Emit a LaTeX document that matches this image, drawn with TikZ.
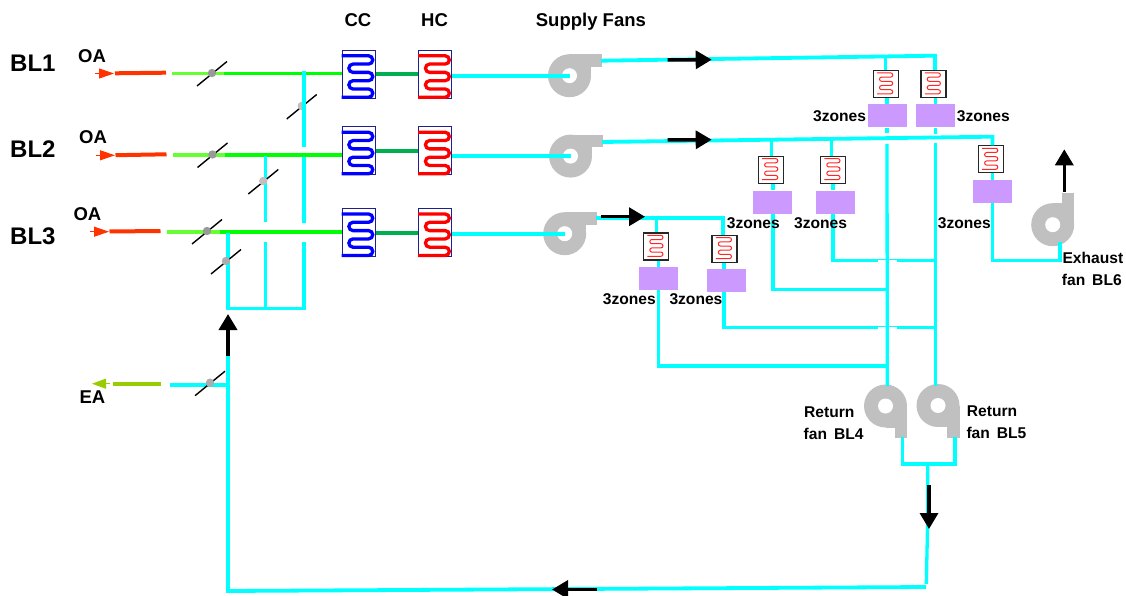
\documentclass[tikz,border=0pt]{standalone}
\usepackage{fontspec}
\setmainfont{Liberation Sans}
\usetikzlibrary{arrows.meta}
\definecolor{duct}{HTML}{00FFFF}
\definecolor{fangray}{HTML}{C0C0C0}
\definecolor{zonepurple}{HTML}{CC99FF}
\definecolor{oared}{HTML}{FF3300}
\definecolor{lgreen}{HTML}{66FF33}
\definecolor{mgreen}{HTML}{00FF00}
\definecolor{dgreen}{HTML}{00B050}
\definecolor{eagreen}{HTML}{99CC00}
\definecolor{coilframe}{HTML}{1F1F8F}
\definecolor{coilblue}{HTML}{0000FF}
\definecolor{coilred}{HTML}{FF0000}
\tikzset{
  ductline/.style={draw=duct,line width=3.3pt},
  ductthick/.style={draw=duct,line width=4.2pt},
  bridge/.style={draw=white,line width=1.6pt},
  flow/.style={draw=black,line width=3.5pt,-{Triangle[length=16pt,width=18pt]}},
  oaline/.style={draw=oared,line width=4pt},
  oatip/.style={draw=oared,line width=1pt,-{Triangle[length=15pt,width=10pt]}},
  eatip/.style={draw=eagreen,line width=1pt,-{Triangle[length=14pt,width=10pt]}},
  bigbox/.style={draw=coilframe,line width=1pt,minimum width=33pt,minimum height=48pt,inner sep=0pt},
  zonebox/.style={fill=zonepurple,minimum width=39pt,minimum height=23pt,inner sep=0pt},
  smallbox/.style={draw=black!85,fill=white,line width=1.2pt,minimum width=25pt,minimum height=27pt,inner sep=0pt},
  txt/.style={inner sep=0pt,anchor=base west,font=\fontsize{15.6}{15.6}\selectfont\bfseries},
  head/.style={inner sep=0pt,anchor=base west,font=\fontsize{18.5}{18.5}\selectfont\bfseries},
  blk/.style={inner sep=0pt,anchor=base west,font=\fontsize{24}{24}\selectfont\bfseries},
  pics/fan/.style={code={
    \fill[fangray] (0,0) circle[radius=21.5];
    \fill[fangray] (0,-21.5) rectangle (21.5,0);
    \fill[fangray] (0,-21.5) rectangle (32,-9);
    \fill[white] (0,0) circle[radius=7.5];}},
  pics/serp/.style={code={
    \draw[#1,line width=3.3pt] (0,6) -- (27,6) arc[start angle=-90,end angle=90,radius=4.15]
      -- (11.4,14.3) arc[start angle=-90,end angle=-270,radius=4.15]
      -- (27,22.6) arc[start angle=-90,end angle=90,radius=4.15]
      -- (11.4,30.9) arc[start angle=-90,end angle=-270,radius=4.15]
      -- (27,39.2) arc[start angle=-90,end angle=90,radius=4.15]
      -- (0,47.5);}},
  pics/minis/.style={code={
    \draw[red!85!white,line width=1pt] (4.5,3) -- (18,3) arc[start angle=-90,end angle=90,radius=2.1]
      -- (9,7.2) arc[start angle=-90,end angle=-270,radius=2.1]
      -- (18,11.4) arc[start angle=-90,end angle=90,radius=2.1]
      -- (9,15.6) arc[start angle=-90,end angle=-270,radius=2.1]
      -- (18,19.8) arc[start angle=-90,end angle=90,radius=2.1]
      -- (4.5,24);}},
  pics/damper/.style={code={
    \draw[black,line width=1.4pt] (-15,13) -- (15,-11.5);
    \fill[#1] (0,0) circle[radius=4.2];}}
}
\begin{document}
\begin{tikzpicture}[x=1pt,y=-1pt]
\useasboundingbox (0,0) rectangle (1126,596);

% ---------- named points
\foreach \n/\x/\y in {
  oaT1/95/73.5, oaH1/114/73.5, oaA1/115/73.3, oaB1/166/72.7, lgA1/172/73.5, lgB1/224/73.5,
  oaT2/96/155.3, oaH2/115/155.3, oaA2/115.5/155.2, oaB2/166.5/154.3, lgA2/173/155, lgB2/225/155,
  oaT3/90/231.7, oaH3/109/231.7, oaA3/109.5/231.5, oaB3/160.5/231, lgA3/167/231.7, lgB3/220/231.7,
  eaT/110/383.7, eaH/92/383.7, eaA/161/383.7, eaB/112.7/383.7, exA/170/385, exB/229.5/385,
  fan1/569.5/75.7, fan2/570.5/156.1, fan3/564.7/233.7, fan4/885.5/406, fan5/938/405.5, fan6/1052.7/224.7,
  o1/601/60.7, o1e/935/55.7, o2/602/142, o2e/992.5/136.7, o3/596/217.7, o3e/723/217.7,
  ar1a/667.7/60, ar1b/711.7/59.7, ar2a/667.7/140, ar2b/711.7/139.7, ar3a/601/216.7, ar3b/645/216.7,
  j1/885.5/56.5, j2/771.7/138.8, j3/831.3/138.5, j4/656.7/218, 
  cA/887/133.5, cB/887/144, cAe/887.3/386, dA/935.3/134, dB/935.3/143, dBe/935.3/386,
  h1s/830.7/260.7, h1e/935.3/260.7, h1c/833/260.7, h2c/773/289.3, h2e/887.3/289.3,
  h3c/724/327.7, h3e/935.3/327.7, h4c/658.3/366, h4e/887.3/366,
  b1a/878/260.7, b1b/897/260.7, b2a/878/327.7, b2b/897/327.7,
  e1/992.7/260.7, e2/1060/260.7, e3/1060/242,
  rA/902.7/437, rAb/902.7/464, rB/955/437, rBb/955/464, rL/901/464, rR/957/464,
  rDa/927.7/463, rDb/927.5/529, rDc/926.3/584,
  bR/926/587, bL/228/591, v1/228/356, v1t/228/314, v1b/228/356,
  w1/228/308.3, w2/265.7/308.3, w3/304/308.3, w4/228/233,
  u1/304/71, u2/304/147, u3/304/157, u4/304/223, u5/304/242,
  u6/265.7/155.7, u7/265.7/222, u8/265.7/242,
  ax1/597/589.5, ax2/552/589.5, dn1/929/485, dn2/929/529, up1/1064.3/192, up2/1064.3/149.3
}{\coordinate (\n) at (\x,\y);}

% ---------- coil boxes, zones, fans
\foreach \n/\x/\y/\c in {cc1/358.6/74.3/coilblue, cc2/358.6/150.8/coilblue, cc3/358.6/232.5/coilblue,
                         hc1/435.2/74.3/coilred, hc2/435.2/150.8/coilred, hc3/435.2/232.5/coilred}{
  \node[bigbox] (\n) at (\x,\y) {};
  \pic at (\n.north west) {serp=\c};
}
\foreach \n/\x/\y in {tc1/885.7/84, tc2/933.4/84, tc3/770.8/169.7, tc4/833/169.7, tc5/990.8/159.4, tc6/656/246.4, tc7/724.5/248.7}{
  \node[smallbox] (\n) at (\x,\y) {};
  \pic at (\n.north west) {minis};
}
\foreach \n/\x/\y in {z1/887.6/116, z2/935.5/116, z3/772.7/202, z4/835/202, z5/992.8/191.5, z6/658/278.5, z7/726.7/280.5}{
  \node[zonebox] (\n) at (\x,\y) {};
}
\pic at (fan1) {fan};
\pic at (fan2) {fan};
\pic at (fan3) {fan};
\pic[rotate=-90] at (fan4) {fan};
\pic[rotate=-90] at (fan5) {fan};
\pic[cm={0,1,1,0,(0,0)}] at (fan6) {fan};

% ---------- damper under the duct
\pic at (301.7,106) {damper=fangray};

% ---------- outside air rows
\draw[oaline] (oaA1) -- (oaB1);
\draw[oaline] (oaA2) -- (oaB2);
\draw[oaline] (oaA3) -- (oaB3);
\draw[oatip] (oaT1) -- (oaH1);
\draw[oatip] (oaT2) -- (oaH2);
\draw[oatip] (oaT3) -- (oaH3);
\foreach \i in {1,2,3}{
  \draw[lgreen,line width=3.6pt] (lgA\i) -- (lgB\i);
  \draw[mgreen,line width=3.6pt] (lgB\i) -- (lgB\i -| cc\i.west);
  \draw[dgreen,line width=4pt] (cc\i.east) -- (hc\i.west);
}
\draw[eagreen,line width=3.6pt] (eaA) -- (eaB);
\draw[eatip] (eaT) -- (eaH);

% ---------- supply ducts
\draw[ductthick] (hc1.east |- fan1) -- (fan1);
\draw[ductthick] (hc2.east |- fan2) -- (fan2);
\draw[ductthick] (hc3.east |- fan3) -- (fan3);
\draw[ductline,line width=3.8pt,line join=miter] (o1) -- (o1e) -- (o1e |- tc2.north);
\draw[ductline,line width=3.8pt] (o2) -- (o2e) -- (o2e |- tc5.north);
\draw[ductline,line width=3.8pt] (o3) -- (o3e) -- (o3e |- tc7.north);
\draw[ductline] (j1) -- (j1 |- tc1.north);
\draw[ductline] (j2) -- (j2 |- tc3.north);
\draw[ductline] (j3) -- (j3 |- tc4.north);
\draw[ductline] (j4) -- (j4 |- tc6.north);
\draw[ductline] (cA |- tc1.south) -- (cA |- z1.north);
\draw[ductline] (dA |- tc2.south) -- (dA |- z2.north);
\draw[ductline] (h2c |- tc3.south) -- (h2c |- z3.north);
\draw[ductline] (h1c |- tc4.south) -- (h1c |- z4.north);
\draw[ductline] (e1 |- tc5.south) -- (e1 |- z5.north);
\draw[ductline] (h4c |- tc6.south) -- (h4c |- z6.north);
\draw[ductline] (h3c |- tc7.south) -- (h3c |- z7.north);

% ---------- return ducts
\draw[ductline] (h1s) -- (h1e);
\draw[ductline] (h1c |- z4.south) -- (h1c);
\draw[ductline] (h2c |- z3.south) -- (h2c) -- (h2e);
\draw[ductline] (h3c |- z7.south) -- (h3c) -- (h3e);
\draw[ductline] (h4c |- z6.south) -- (h4c) -- (h4e);
\draw[bridge] (b1a) -- (b1b);
\draw[bridge] (b2a) -- (b2b);
\draw[ductline] (cA |- z1.south) -- (cA);
\draw[ductline] (cB) -- (cAe);
\draw[ductline] (dA |- z2.south) -- (dA);
\draw[ductline] (dB) -- (dBe);
\draw[ductline] (e1 |- z5.south) -- (e1) -- (e2) -- (e3);
\draw[ductline] (rA) -- (rAb);
\draw[ductline] (rB) -- (rBb);
\draw[ductline] (rL) -- (rR);
\draw[ductline] (rDa) -- (rDb) -- (rDc);
\draw[ductline,line width=3.8pt,line join=miter] (bR) -- (bL) -- (v1);

% ---------- mixing ducts
\draw[ductline] (w4) -- (w1) -- (w3) -- (u5);
\draw[ductline] (w2) -- (u8);
\draw[ductline] (u1) -- (u2);
\draw[ductline] (u3) -- (u4);
\draw[ductline] (u6) -- (u7);
\draw[ductline] (exA) -- (exB);

% ---------- dampers on top
\pic at (212,73) {damper=black!40};
\pic at (212.5,154.5) {damper=black!40};
\pic at (207,231) {damper=black!40};
\pic at (263.3,181) {damper=fangray};
\pic at (226,261) {damper=fangray!90!black};
\pic at (210,382.7) {damper=fangray!90!black};

% ---------- flow arrows
\draw[flow] (ar1a) -- (ar1b);
\draw[flow] (ar2a) -- (ar2b);
\draw[flow] (ar3a) -- (ar3b);
\draw[flow] (v1b) -- (v1t);
\draw[flow] (dn1) -- (dn2);
\draw[flow] (ax1) -- (ax2);
\draw[flow] (up1) -- (up2);

% ---------- labels
\node[blk] (tb1) at (10,71.5) {BL1};
\node[blk] (tb2) at (10,158) {BL2};
\node[blk] (tb3) at (10,244) {BL3};
\node[head] (to1) at (78,62.3) {OA};
\node[head] (to2) at (79,143.3) {OA};
\node[head] (to3) at (73.3,220) {OA};
\node[head] (tea) at (79.3,403) {EA};
\node[head] (tcc) at (344.3,26.7) {CC};
\node[head] (thc) at (421,26.7) {HC};
\node[head] (tsf) at (535.7,27) {Supply Fans};
\foreach \n/\x/\y in {q1/813/122, q2/956.7/122, q3/726.7/228, q4/794/228, q5/937.7/228.3, q6/602.7/304, q7/669.3/304}{
  \node[txt] (\n) at (\x,\y) {3zones};
}
\node[txt] (r1) at (804,417.3) {Return};
\node[txt] (r2) at (803.5,439) {fan\ \,BL4};
\node[txt] (r3) at (966.7,416.3) {Return};
\node[txt] (r4) at (966.3,438) {fan\ \,BL5};
\node[txt] (x1) at (1062.3,263.3) {Exhaust};
\node[txt] (x2) at (1061.7,285) {fan\ \,BL6};
\end{tikzpicture}
\end{document}
